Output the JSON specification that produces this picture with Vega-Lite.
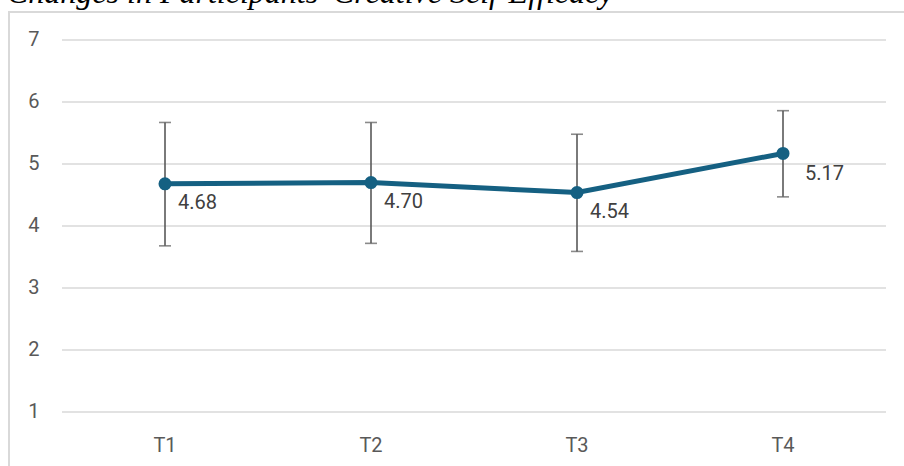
{
  "$schema": "https://vega.github.io/schema/vega-lite/v6.json",
  "width": 905,
  "height": 462,
  "autosize": {"type": "none"},
  "padding": {"left": 9, "top": 12, "right": 0, "bottom": 0},
  "background": "white",
  "title": {
    "text": "Changes in Participants' Creative Self-Efficacy",
    "anchor": "start",
    "frame": "group",
    "orient": "top",
    "font": "Liberation Serif",
    "fontStyle": "italic",
    "fontWeight": "normal",
    "fontSize": 32,
    "color": "#000000",
    "baseline": "alphabetic",
    "offset": 0,
    "dx": -2,
    "dy": 23
  },
  "config": {
    "view": {"stroke": "#d9d9d9", "strokeWidth": 2},
    "font": "Roboto"
  },
  "datasets": {
    "stats": [
      {"time": "T1", "mean": 4.68, "lo": 3.68, "hi": 5.67},
      {"time": "T2", "mean": 4.70, "lo": 3.72, "hi": 5.67},
      {"time": "T3", "mean": 4.54, "lo": 3.59, "hi": 5.48},
      {"time": "T4", "mean": 5.17, "lo": 4.47, "hi": 5.86}
    ],
    "grid": [{"v": 1}, {"v": 2}, {"v": 3}, {"v": 4}, {"v": 5}, {"v": 6}, {"v": 7}]
  },
  "layer": [
    {
      "data": {"name": "grid"},
      "mark": {"type": "rule", "color": "#d9d9d9", "strokeWidth": 1.5},
      "encoding": {
        "y": {
          "field": "v",
          "type": "quantitative",
          "scale": {"domain": [0, 7.4516], "nice": false, "zero": false},
          "axis": {
            "orient": "left",
            "offset": -30,
            "domain": false,
            "ticks": false,
            "tickSize": 0,
            "labelPadding": 0,
            "grid": false,
            "values": [1, 2, 3, 4, 5, 6, 7],
            "format": "d",
            "title": null,
            "labelFontSize": 20,
            "labelColor": "#595959",
            "labelFont": "Roboto"
          }
        },
        "x": {"datum": 0, "type": "quantitative", "scale": {"domain": [0, 1], "range": [53, 877]}, "axis": null},
        "x2": {"datum": 1}
      }
    },
    {
      "data": {"name": "stats"},
      "encoding": {
        "x": {
          "field": "time",
          "type": "nominal",
          "scale": {"type": "band", "domain": ["T1", "T2", "T3", "T4"], "range": [53, 877], "paddingInner": 0, "paddingOuter": 0},
          "axis": {
            "orient": "bottom",
            "offset": -23,
            "domain": false,
            "ticks": false,
            "tickSize": 0,
            "labelPadding": 0,
            "labelBaseline": "alphabetic",
            "labelAngle": 0,
            "labelFontSize": 20,
            "labelColor": "#595959",
            "labelFont": "Roboto",
            "title": null
          }
        }
      },
      "layer": [
        {
          "mark": {"type": "rule", "color": "#595959", "strokeWidth": 1.6},
          "encoding": {
            "y": {"field": "lo", "type": "quantitative", "scale": {"domain": [0, 7.4516], "nice": false, "zero": false}},
            "y2": {"field": "hi"}
          }
        },
        {
          "mark": {"type": "tick", "color": "#595959", "size": 12, "thickness": 1.6, "orient": "horizontal"},
          "encoding": {
            "y": {"field": "lo", "type": "quantitative", "scale": {"domain": [0, 7.4516], "nice": false, "zero": false}}
          }
        },
        {
          "mark": {"type": "tick", "color": "#595959", "size": 12, "thickness": 1.6, "orient": "horizontal"},
          "encoding": {
            "y": {"field": "hi", "type": "quantitative", "scale": {"domain": [0, 7.4516], "nice": false, "zero": false}}
          }
        },
        {
          "mark": {"type": "line", "color": "#156082", "strokeWidth": 5},
          "encoding": {
            "y": {"field": "mean", "type": "quantitative", "scale": {"domain": [0, 7.4516], "nice": false, "zero": false}}
          }
        },
        {
          "mark": {"type": "point", "filled": true, "color": "#156082", "size": 170, "opacity": 1},
          "encoding": {
            "y": {"field": "mean", "type": "quantitative", "scale": {"domain": [0, 7.4516], "nice": false, "zero": false}}
          }
        },
        {
          "transform": [{"filter": "datum.time != 'T4'"}],
          "mark": {"type": "text", "align": "left", "baseline": "middle", "dx": 13, "dy": 19, "fontSize": 20, "color": "#404040", "font": "Roboto"},
          "encoding": {
            "y": {"field": "mean", "type": "quantitative", "scale": {"domain": [0, 7.4516], "nice": false, "zero": false}},
            "text": {"field": "mean", "type": "quantitative", "format": ".2f"}
          }
        },
        {
          "transform": [{"filter": "datum.time == 'T4'"}],
          "mark": {"type": "text", "align": "left", "baseline": "middle", "dx": 22, "dy": 21, "fontSize": 20, "color": "#404040", "font": "Roboto"},
          "encoding": {
            "y": {"field": "mean", "type": "quantitative", "scale": {"domain": [0, 7.4516], "nice": false, "zero": false}},
            "text": {"field": "mean", "type": "quantitative", "format": ".2f"}
          }
        }
      ]
    }
  ],
  "resolve": {"scale": {"x": "independent"}}
}
